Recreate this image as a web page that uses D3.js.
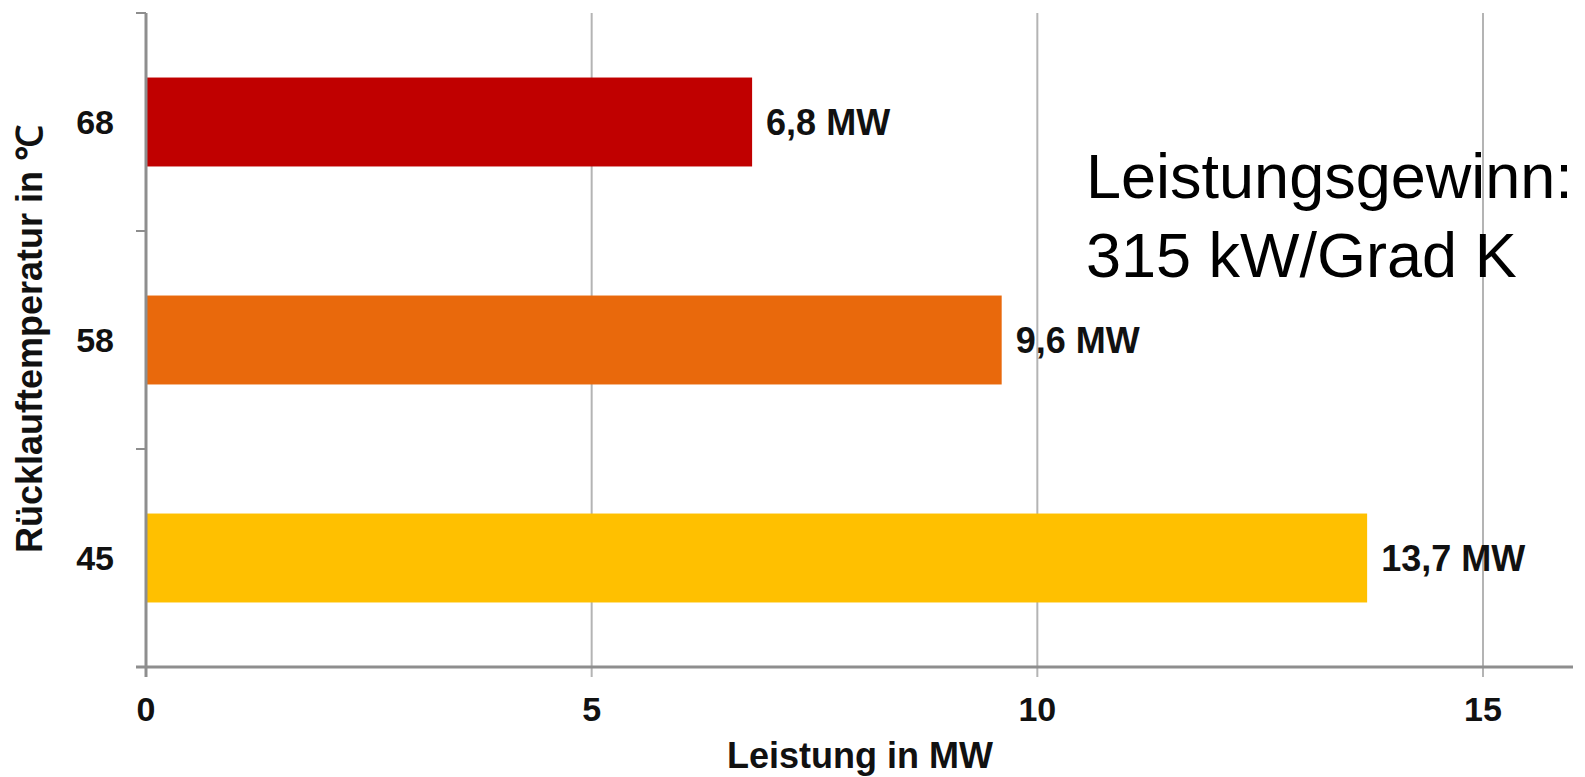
<!DOCTYPE html>
<html>
<head>
<meta charset="utf-8">
<script src="https://cdn.jsdelivr.net/npm/d3@7"></script>
<style>
  body { margin: 0; background: #fff; }
  text { font-family: "Liberation Sans", Arial, sans-serif; }
</style>
</head>
<body>
<svg id="chart" width="1585" height="777"></svg>
<script>
// return temperature categories (top to bottom) and power in MW
var temps = ["68", "58", "45"];
var power = [6.8, 9.6, 13.7];
var valueLabels = ["6,8 MW", "9,6 MW", "13,7 MW"];
var xTicks = [0, 5, 10, 15];
var note = ["Leistungsgewinn:", "315 kW/Grad K"];

var svg = d3.select('#chart');

var x = d3.scaleLinear().domain([0, 15]).range([146, 1483]);
var y = d3.scaleBand().domain(temps).range([13, 667])
    .paddingInner(0.592).paddingOuter(0.296);
var color = d3.scaleOrdinal().domain(temps).range(["#c00000", "#e9690c", "#ffc000"]);

var yTop = y.range()[0], yBottom = y.range()[1];

// vertical grid lines (also act as tick marks under the axis)
svg.selectAll('line.grid')
    .data(xTicks.filter(d => d > 0))
    .enter().append('line')
    .attr('class', 'grid')
    .attr('x1', d => x(d)).attr('x2', d => x(d))
    .attr('y1', yTop).attr('y2', yBottom + 10)
    .attr('stroke', '#b4b4b4')
    .attr('stroke-width', 2);

// bars
svg.selectAll('rect.bar')
    .data(temps)
    .enter().append('rect')
    .attr('class', 'bar')
    .attr('x', x(0))
    .attr('y', d => y(d))
    .attr('width', (d, i) => x(power[i]) - x(0))
    .attr('height', y.bandwidth())
    .attr('fill', d => color(d));

// value labels
svg.selectAll('text.val')
    .data(temps)
    .enter().append('text')
    .attr('class', 'val')
    .attr('x', (d, i) => x(power[i]) + 14)
    .attr('y', d => y(d) + y.bandwidth() / 2)
    .attr('dy', '0.36em')
    .attr('font-size', 36)
    .attr('font-weight', 'bold')
    .attr('fill', '#111')
    .text((d, i) => valueLabels[i]);

// axes
var axisColor = '#8e8e8e';
var boundaries = d3.range(temps.length + 1).map(k => yTop + k * y.step());

svg.append('line')
    .attr('x1', x(0)).attr('x2', x(0))
    .attr('y1', yTop).attr('y2', yBottom)
    .attr('stroke', axisColor).attr('stroke-width', 3);

svg.selectAll('line.ytick')
    .data(boundaries.slice(0, -1))
    .enter().append('line')
    .attr('class', 'ytick')
    .attr('x1', x(0) - 10).attr('x2', x(0))
    .attr('y1', d => d).attr('y2', d => d)
    .attr('stroke', axisColor).attr('stroke-width', 2);

svg.append('line')
    .attr('x1', x(0) - 10).attr('x2', 1573)
    .attr('y1', yBottom).attr('y2', yBottom)
    .attr('stroke', axisColor).attr('stroke-width', 3);

svg.append('line')
    .attr('x1', x(0)).attr('x2', x(0))
    .attr('y1', yBottom).attr('y2', yBottom + 10)
    .attr('stroke', axisColor).attr('stroke-width', 3);

// tick labels
svg.selectAll('text.xlab')
    .data(xTicks)
    .enter().append('text')
    .attr('class', 'xlab')
    .attr('x', d => x(d))
    .attr('y', 721)
    .attr('text-anchor', 'middle')
    .attr('font-size', 34)
    .attr('font-weight', 'bold')
    .attr('fill', '#111')
    .text(d => d);

svg.selectAll('text.ylab')
    .data(temps)
    .enter().append('text')
    .attr('class', 'ylab')
    .attr('x', 114)
    .attr('y', d => y(d) + y.bandwidth() / 2)
    .attr('dy', '0.36em')
    .attr('text-anchor', 'end')
    .attr('font-size', 34)
    .attr('font-weight', 'bold')
    .attr('fill', '#111')
    .text(d => d);

// axis titles
svg.append('text')
    .attr('x', 860).attr('y', 768)
    .attr('text-anchor', 'middle')
    .attr('font-size', 36)
    .attr('font-weight', 'bold')
    .attr('fill', '#111')
    .text('Leistung in MW');

svg.append('text')
    .attr('transform', 'translate(42,339) rotate(-90)')
    .attr('text-anchor', 'middle')
    .attr('font-size', 36)
    .attr('font-weight', 'bold')
    .attr('fill', '#111')
    .text('Rücklauftemperatur in ℃');

// annotation
svg.selectAll('text.note')
    .data(note)
    .enter().append('text')
    .attr('class', 'note')
    .attr('x', 1086)
    .attr('y', (d, i) => 198 + i * 79)
    .attr('font-size', 63)
    .attr('fill', '#000')
    .text(d => d);
</script>
</body>
</html>
